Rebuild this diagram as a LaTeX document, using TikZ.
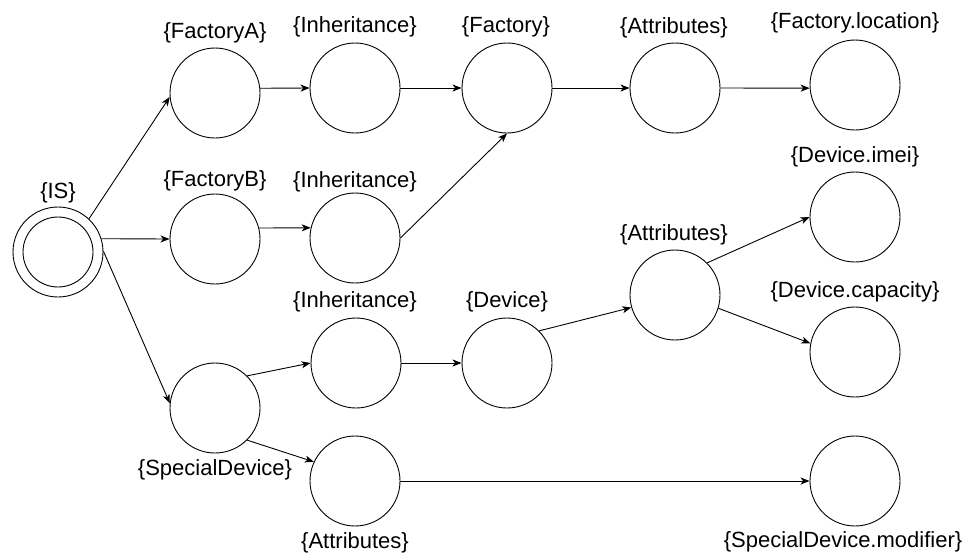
\documentclass[tikz,border=0pt]{standalone}
\usepackage{fontspec}
\setmainfont{Liberation Sans}
\usetikzlibrary{arrows.meta}
\begin{document}
\begin{tikzpicture}[x=1pt,y=-1pt,
  state/.style={circle,draw,minimum size=90pt,inner sep=0pt,line width=0.9pt},
  lbl/.style={font=\fontsize{22}{26}\selectfont,inner sep=0pt},
  edge/.style={line width=0.9pt,-{Stealth[length=9pt,width=7pt,inset=2.5pt]}}]
\useasboundingbox (0,0) rectangle (978,558);

% states
\node[state] (IS) at (58,252) {};
\node[circle,draw,minimum size=70pt,inner sep=0pt,line width=0.9pt] (ISin) at (IS) {};
\node[state] (FA) at (215,93) {};
\node[state] (I1) at (355,88) {};
\node[state] (F)  at (507,88) {};
\node[state] (A1) at (675,88) {};
\node[state] (FL) at (855,85) {};
\node[state] (FB) at (215,239) {};
\node[state] (I2) at (355,238) {};
\node[state] (SD) at (215,408) {};
\node[state] (I3) at (356,363) {};
\node[state] (D)  at (507,363) {};
\node[state] (A2) at (675,295) {};
\node[state] (DI) at (855,217) {};
\node[state] (DC) at (855,352) {};
\node[state] (A3) at (355,481) {};
\node[state] (SM) at (855,481) {};

% labels
\node[lbl] (lIS) at (58,193) {\{IS\}};
\node[lbl] (lFA) at (215,33) {\{FactoryA\}};
\node[lbl] (lI1) at (355,27) {\{Inheritance\}};
\node[lbl] (lF)  at (506,27) {\{Factory\}};
\node[lbl] (lA1) at (674,28) {\{Attributes\}};
\node[lbl] (lFL) at (855,23) {\{Factory.location\}};
\node[lbl] (lFB) at (215,181) {\{FactoryB\}};
\node[lbl] (lI2) at (355,182) {\{Inheritance\}};
\node[lbl] (lDI) at (855,157) {\{Device.imei\}};
\node[lbl] (lA2) at (674,235) {\{Attributes\}};
\node[lbl] (lDC) at (855,292) {\{Device.capacity\}};
\node[lbl] (lI3) at (355,302) {\{Inheritance\}};
\node[lbl] (lD)  at (507,302) {\{Device\}};
\node[lbl] (lSD) at (215,470) {\{SpecialDevice\}};
\node[lbl] (lA3) at (355,543) {\{Attributes\}};
\node[lbl] (lSM) at (843,542) {\{SpecialDevice.modifier\}};

% transitions
\draw[edge] (IS.47) -- (FA.185);
\draw[edge] (IS.17) -- (FB.180);
\draw[edge] (IS.1) -- (SD.174);
\draw[edge] (FA.6) -- (I1.180);
\draw[edge] (I1.0) -- (F.180);
\draw[edge] (F.0) -- (A1.180);
\draw[edge] (A1.0) -- (FL.184);
\draw[edge] (FB.14) -- (I2.167);
\draw[edge] (I2.0) -- (F.270);
\draw[edge] (SD.45) -- (I3.180);
\draw[edge] (SD.-45) -- (A3.155);
\draw[edge] (I3.0) -- (D.180);
\draw[edge] (D.45) -- (A2.196);
\draw[edge] (A2.45) -- (DI.180);
\draw[edge] (A2.-17) -- (DC.169);
\draw[edge] (A3.0) -- (SM.180);
\end{tikzpicture}
\end{document}
